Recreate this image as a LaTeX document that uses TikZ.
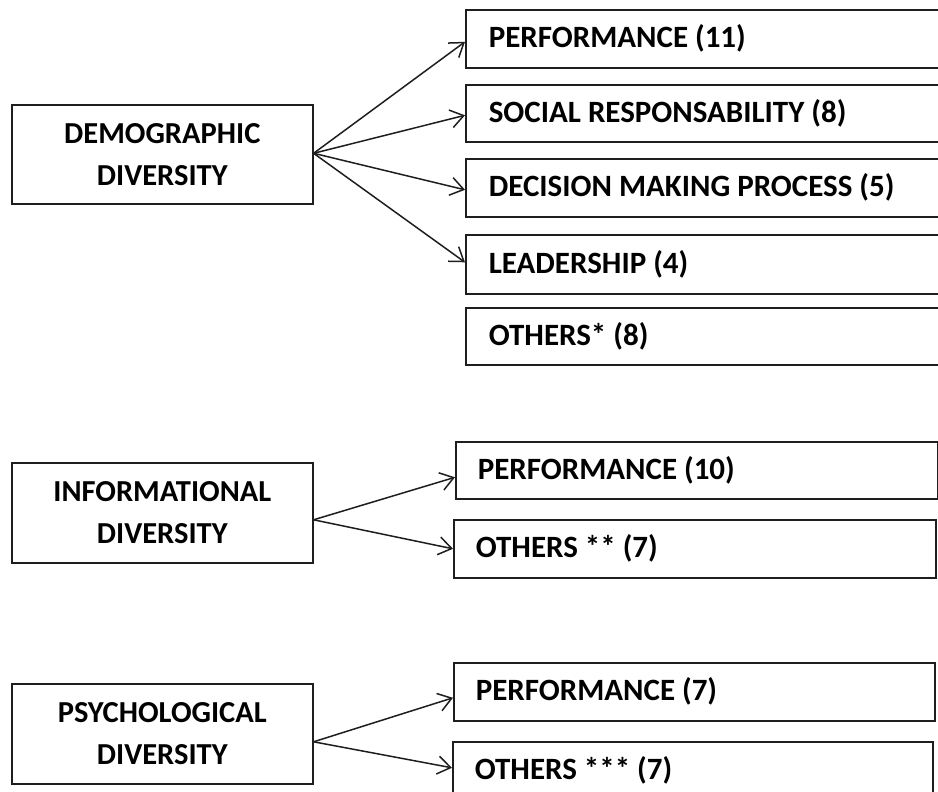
\documentclass[tikz,border=0pt]{standalone}
\usepackage{fontspec}
\newfontfamily\calib{Carlito}
\usetikzlibrary{arrows.meta}
\definecolor{ink}{HTML}{1E1E1E}
\begin{document}
\begin{tikzpicture}[x=1pt,y=-1pt,
  srcbox/.style={draw=ink, line width=1.6pt, anchor=north west, align=center,
    minimum width=301pt, minimum height=99pt, inner sep=0pt,
    font=\calib\bfseries\fontsize{30.5}{42}\selectfont, text=black},
  outbox/.style={draw=ink, line width=1.6pt, anchor=north west, align=flush left,
    inner xsep=22pt, inner ysep=0pt, minimum height=58pt,
    font=\calib\bfseries\fontsize{31}{38}\selectfont, text=black},
  link/.style={draw=ink, line width=1.5pt, -{Straight Barb[length=13pt,width=18pt]}}]
\useasboundingbox (0,0) rectangle (938,792);
\clip (0,0) rectangle (938,792);

% Demographic diversity and its outcomes
\node[srcbox] (demo) at (11,104) {DEMOGRAPHIC\\DIVERSITY};
\node[outbox, inner xsep=23pt, text width=440pt] (d1) at (465,9)   {PERFORMANCE (11)};
\node[outbox, inner xsep=23pt, text width=440pt, minimum height=57pt] (d2) at (465,84)  {SOCIAL RESPONSABILITY (8)};
\node[outbox, inner xsep=23pt, text width=440pt] (d3) at (465,158) {DECISION MAKING PROCESS (5)};
\node[outbox, inner xsep=23pt, text width=440pt, minimum height=59pt] (d4) at (465,234) {LEADERSHIP (4)};
\node[outbox, inner xsep=23pt, text width=440pt, minimum height=57pt] (d5) at (465,307) {OTHERS* (8)};
\coordinate (d0) at ([yshift=1pt]demo.east);
\draw[link] (d0) -- ([yshift=-3pt]d1.west);
\draw[link] (d0) -- ([yshift=-2pt]d2.west);
\draw[link] (d0) -- ([yshift=-2pt]d3.west);
\draw[link] (d0) -- ([yshift=2pt]d4.west);

% Informational diversity
\node[srcbox, minimum height=100pt] (info) at (11,462) {INFORMATIONAL\\DIVERSITY};
\node[outbox, text width=438pt, minimum height=57pt] (i1) at (455,441) {PERFORMANCE (10)};
\node[outbox, text width=438pt] (i2) at (453,519) {OTHERS ** (7)};
\coordinate (i0) at ([yshift=-7pt]info.east);
\draw[link] (i0) -- ([yshift=-7pt]i1.west);
\draw[link] (i0) -- (i2.west);

% Psychological diversity
\node[srcbox, minimum height=100pt] (psy) at (11,683) {PSYCHOLOGICAL\\DIVERSITY};
\node[outbox, text width=437pt] (p1) at (453,662) {PERFORMANCE (7)};
\node[outbox, text width=436pt] (p2) at (452,741) {OTHERS *** (7)};
\coordinate (p0) at ([yshift=-8pt]psy.east);
\draw[link] (p0) -- ([yshift=-6pt]p1.west);
\draw[link] (p0) -- ([yshift=3pt]p2.west);
\end{tikzpicture}
\end{document}
